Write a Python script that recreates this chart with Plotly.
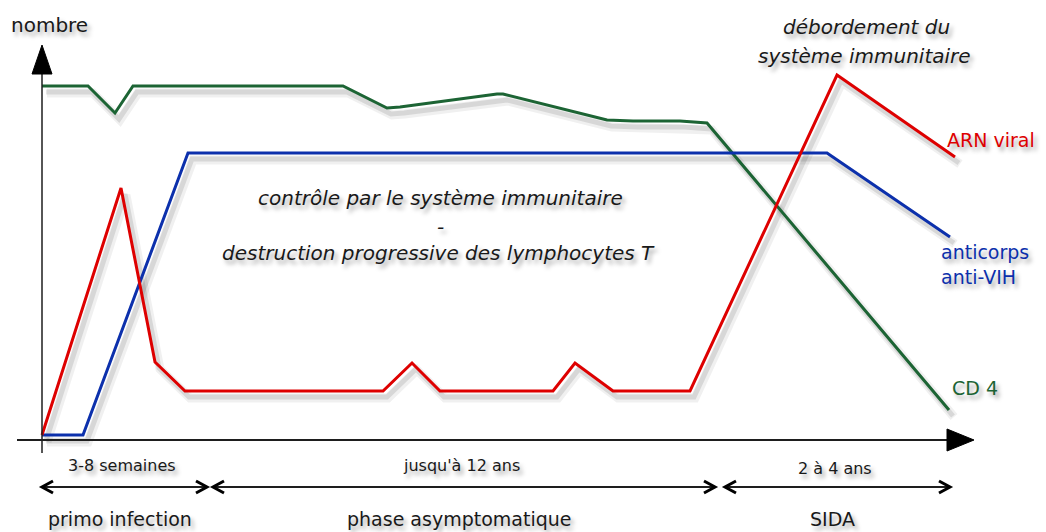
import plotly.graph_objects as go

# ---- data (schematic units: x = time, y = "nombre") ----
x_cd4 = [0, 46, 73, 91, 301, 345, 358, 455, 461, 565, 591, 638, 665, 907]
y_cd4 = [354, 354, 327, 354, 354, 332, 333, 346, 346, 320, 319, 319, 317, 30]

x_ac = [0, 41, 146, 785, 908]
y_ac = [5, 5, 287, 287, 203]

x_arn = [0, 79, 113, 143, 341, 370, 398, 511, 533, 571, 648, 795, 913]
y_arn = [5, 252, 78, 49, 49, 77, 49, 49, 77, 49, 49, 365, 283]

series_names = ["CD 4", "anticorps anti-VIH", "ARN viral"]
colors = ["rgb(28,100,52)", "rgb(12,48,172)", "rgb(222,0,0)"]

phase_bounds = [(0, 165), (171, 673), (683, 908)]
phase_durations = ["3-8 semaines", "jusqu'à 12 ans", "2 à 4 ans"]
phase_names = ["primo infection", "phase asymptomatique", "SIDA"]

# ---- layout constants ----
X0, X1 = -42, 1004
Y0, Y1 = -92, 440

fig = go.Figure()

series = [(x_cd4, y_cd4), (x_ac, y_ac), (x_arn, y_arn)]
# soft shadows
for (xs, ys) in series:
    for off, a, w in [((5, -7), 0.06, 9), ((4, -6), 0.10, 5)]:
        fig.add_trace(go.Scatter(x=[v + off[0] for v in xs], y=[v + off[1] for v in ys],
                                 mode="lines", line=dict(color=f"rgba(0,0,0,{a})", width=w),
                                 hoverinfo="skip", showlegend=False))
for (xs, ys), name, c in zip(series, series_names, colors):
    fig.add_trace(go.Scatter(x=xs, y=ys, mode="lines", name=name,
                             line=dict(color=c, width=3), showlegend=False))

shapes = []
axc = "rgb(30,30,30)"
# axes
shapes.append(dict(type="line", x0=0, x1=0, y0=-13, y1=372, line=dict(color=axc, width=1.5)))
shapes.append(dict(type="line", x0=-25, x1=910, y0=0, y1=0, line=dict(color=axc, width=2)))
shapes.append(dict(type="path", path="M 0 395 L -10 366 L 10 366 Z", fillcolor="black",
                   line=dict(color="black", width=1)))
shapes.append(dict(type="path", path="M 932 0 L 905 11 L 905 -11 Z", fillcolor="black",
                   line=dict(color="black", width=1)))
# phase arrows
ya = -47
for (a, b) in phase_bounds:
    shapes.append(dict(type="line", x0=a, x1=b, y0=ya, y1=ya, line=dict(color=axc, width=2)))
    for tip, d in [(a, 1), (b, -1)]:
        shapes.append(dict(type="path",
                           path=f"M {tip + d*11} {ya+6} L {tip} {ya} L {tip + d*11} {ya-6}",
                           line=dict(color="black", width=3)))
fig.update_layout(shapes=shapes)

shadow = "3px 4px 4px rgba(0,0,0,0.35)"
ff = "DejaVu Sans, Arial, sans-serif"
ann = []
def add(text, x, y, size, color="rgb(25,25,25)", xanchor="center", italic=False):
    ann.append(dict(text=text, x=x, y=y, xref="x", yref="y", showarrow=False,
                    xanchor=xanchor, yanchor="middle",
                    font=dict(family=ff, size=size, color=color,
                              style="italic" if italic else "normal", shadow=shadow)))

add("nombre", 7, 415, 20)
add("débordement du", 824, 413, 20, italic=True)
add("système immunitaire", 822, 384, 20, italic=True)
add("ARN viral", 903, 300, 19, color=colors[2], xanchor="left")
add("anticorps", 897, 188, 19, color=colors[1], xanchor="left")
add("anti-VIH", 897, 163, 19, color=colors[1], xanchor="left")
add("CD 4", 908, 52, 19, color=colors[0], xanchor="left")
add("contrôle par le système immunitaire", 398, 242, 20, italic=True)
add("-", 398, 213, 20, italic=True)
add("destruction progressive des lymphocytes T", 396, 187, 20, italic=True)
for (a, b), dur, nm, dy in zip(phase_bounds, phase_durations, phase_names, [0, 0, -3]):
    cx = (a + b) / 2
    add(dur, cx - 3, -25 + dy, 16)
    add(nm, cx - 5, -79, 19)
fig.update_layout(annotations=ann)

fig.update_layout(
    width=1046, height=532, margin=dict(l=0, r=0, t=0, b=0),
    paper_bgcolor="white", plot_bgcolor="white",
    xaxis=dict(range=[X0, X1], visible=False, fixedrange=True),
    yaxis=dict(range=[Y0, Y1], visible=False, fixedrange=True),
    showlegend=False,
)
fig.write_html("out.html", config={"displayModeBar": False},
               post_script="document.body.style.margin='0';document.body.style.overflow='hidden';")
